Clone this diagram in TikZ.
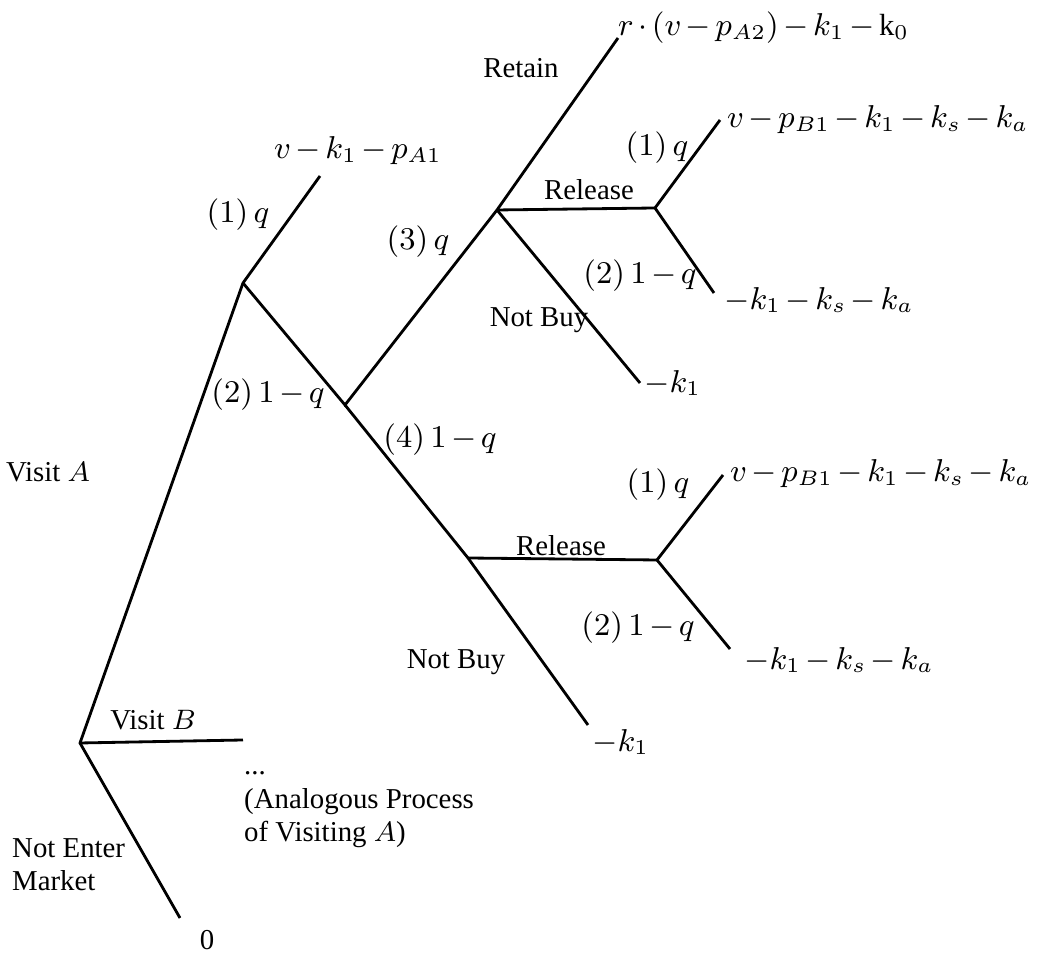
\documentclass[tikz,border=0pt]{standalone}
\usepackage{fontspec}
\setmainfont{Liberation Serif}
\begin{document}
\begin{tikzpicture}[
    branch/.style={line width=0.8pt},
    lbl/.style={inner sep=1pt, font=\fontsize{8.2}{9.5}\selectfont},
    mlbl/.style={inner sep=1pt, font=\fontsize{8.7}{10}\selectfont,
      execute at begin node={\medmuskip=2.5mu\relax}},
    pay/.style={mlbl, anchor=west}
  ]
        \useasboundingbox (0,0) rectangle (10.45,9.53);
        % decision points
        \coordinate (root) at (0.80,2.10);
        \coordinate (a) at (2.43,6.70);
        \coordinate (b) at (3.45,5.48);
        \coordinate (c) at (4.97,7.43);
        \coordinate (d) at (6.55,7.45);
        \coordinate (e) at (4.68,3.95);
        \coordinate (f) at (6.57,3.93);
        % end points
        \coordinate (vb) at (2.43,2.13);
        \coordinate (ne) at (1.80,0.35);
        \coordinate (a1) at (3.20,7.77);
        \coordinate (ret) at (6.18,9.15);
        \coordinate (d1) at (7.20,8.33);
        \coordinate (d2) at (7.14,6.60);
        \coordinate (nb1) at (6.40,5.70);
        \coordinate (f1) at (7.23,4.78);
        \coordinate (f2) at (7.30,3.04);
        \coordinate (nb2) at (5.88,2.28);
        \draw[branch] (ne) -- (root) -- (a) -- (a1);
        \draw[branch] (root) -- (vb);
        \draw[branch] (a) -- (b) -- (c) -- (ret);
        \draw[branch] (c) -- (nb1);
        \draw[branch] (b) -- (e) -- (nb2);
        \foreach \s/\t in {c/d, d/d1, d/d2, e/f, f/f1, f/f2} {
            \draw[branch] (\s) -- (\t);
        }
        % payoffs
        \node[pay] (pret) at (6.14,9.25) {$r\cdot(v-p_{A2})-k_1-\mathrm{k}_0$};
        \node[pay] (pd1) at (7.23,8.33) {$v-p_{B1}-k_1-k_s-k_a$};
        \node[pay] (pd2) at (7.20,6.53) {$-k_1-k_s-k_a$};
        \node[pay] (pnb1) at (6.40,5.70) {$-k_1$};
        \node[pay] (pa1) at (2.70,8.02) {$v-k_1-p_{A1}$};
        \node[pay] (pf1) at (7.26,4.79) {$v-p_{B1}-k_1-k_s-k_a$};
        \node[pay] (pf2) at (7.40,2.93) {$-k_1-k_s-k_a$};
        \node[pay] (pnb2) at (5.88,2.11) {$-k_1$};
        \node[lbl] (zero) at (2.07,0.13) {0};
        % branch labels
        \node[lbl] (lret) at (5.21,8.85) {Retain};
        \node[mlbl] (ld1) at (6.57,8.05) {$(1)\,q$};
        \node[lbl] (lrel1) at (5.89,7.63) {Release};
        \node[mlbl] (ld2) at (6.40,6.77) {$(2)\,1-q$};
        \node[lbl] (lnb1) at (5.39,6.33) {Not Buy};
        \node[mlbl] (la1) at (2.38,7.38) {$(1)\,q$};
        \node[mlbl] (lc) at (4.18,7.11) {$(3)\,q$};
        \node[mlbl] (lb) at (2.68,5.58) {$(2)\,1-q$};
        \node[mlbl] (le) at (4.40,5.13) {$(4)\,1-q$};
        \node[lbl] (lva) at (0.48,4.81) {Visit $A$};
        \node[mlbl] (lf1) at (6.58,4.68) {$(1)\,q$};
        \node[lbl] (lrel2) at (5.61,4.07) {Release};
        \node[mlbl] (lf2) at (6.38,3.25) {$(2)\,1-q$};
        \node[lbl] (lnb2) at (4.56,2.91) {Not Buy};
        \node[lbl] (lvb) at (1.53,2.33) {Visit $B$};
        \node[lbl, anchor=west, align=left] (lanal) at (2.40,1.43) {...\\(Analogous Process\\of Visiting $A$)};
        \node[lbl, anchor=west, align=left] (lne) at (0.08,0.88) {Not Enter\\Market};
    \end{tikzpicture}
\end{document}
